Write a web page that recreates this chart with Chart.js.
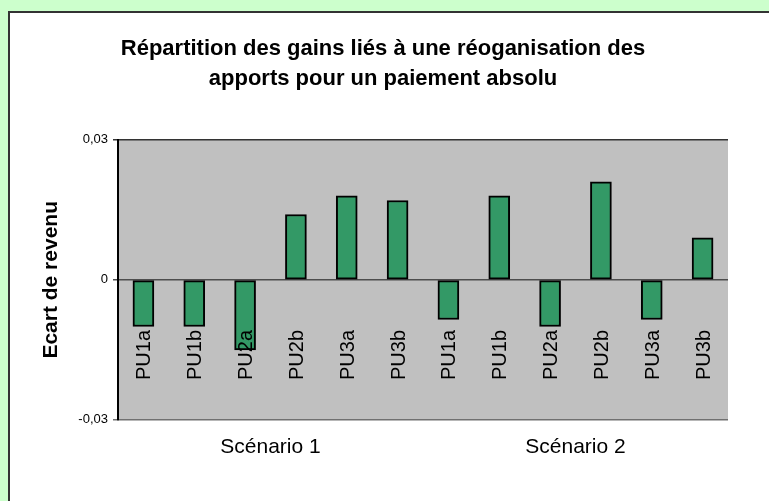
<!DOCTYPE html>
<html>
<head>
<meta charset="utf-8">
<script src="https://cdn.jsdelivr.net/npm/chart.js@4/dist/chart.umd.min.js"></script>
<style>
  html, body { margin: 0; padding: 0; background: #CCFFCC; }
  #wrap { position: relative; width: 769px; height: 501px; }
</style>
</head>
<body>
<div id="wrap"><canvas id="gainsChart" width="769" height="501"></canvas></div>
<script>
// Data
const barLabels = ['PU1a', 'PU1b', 'PU2a', 'PU2b', 'PU3a', 'PU3b',
                   'PU1a', 'PU1b', 'PU2a', 'PU2b', 'PU3a', 'PU3b'];
const gainValues = [-0.01, -0.01, -0.015, 0.014, 0.018, 0.017,
                    -0.0085, 0.018, -0.01, 0.021, -0.0085, 0.009];
const scenarios = ['Scénario 1', 'Scénario 2'];
const yTicks = [-0.03, 0, 0.03];

const FONT = "'Liberation Sans', Arial, sans-serif";

// Background: green page, white chart panel, grey plot area
const framePlugin = {
    id: 'frame',
    beforeDraw(chart) {
        const ctx = chart.ctx;
        const a = chart.chartArea;
        ctx.save();
        ctx.fillStyle = '#CCFFCC';
        ctx.fillRect(0, 0, chart.width, chart.height);
        ctx.fillStyle = '#ffffff';
        ctx.fillRect(9, 12, chart.width - 9, chart.height - 12);
        ctx.strokeStyle = '#333333';
        ctx.lineWidth = 2;
        ctx.beginPath();
        ctx.moveTo(9, chart.height);
        ctx.lineTo(9, 12);
        ctx.lineTo(chart.width, 12);
        ctx.stroke();
        ctx.fillStyle = '#C0C0C0';
        ctx.fillRect(a.left, a.top, a.right - a.left, a.bottom - a.top);
        ctx.restore();
    }
};

// Rotated category names drawn inside the plot area
const barNamePlugin = {
    id: 'barNames',
    afterDatasetsDraw(chart) {
        const ctx = chart.ctx;
        const xs = chart.scales.x;
        ctx.save();
        ctx.font = '20px ' + FONT;
        ctx.fillStyle = '#000';
        ctx.textAlign = 'left';
        ctx.textBaseline = 'alphabetic';
        barLabels.forEach((lbl, i) => {
            ctx.save();
            ctx.translate(xs.getPixelForValue(i), 380);
            ctx.rotate(-Math.PI / 2);
            ctx.fillText(lbl, 0, 7);
            ctx.restore();
        });
        ctx.restore();
    }
};

new Chart(document.getElementById('gainsChart'), {
    type: 'bar',
    data: {
        labels: barLabels,
        datasets: [{
            data: gainValues,
            backgroundColor: '#339966',
            borderColor: '#000000',
            borderWidth: 2,
            borderSkipped: false,
            barThickness: 21,
            xAxisID: 'x'
        }]
    },
    options: {
        responsive: false,
        animation: false,
        layout: { padding: { top: 12, left: 0, right: 3, bottom: 26 } },
        plugins: {
            legend: { display: false },
            tooltip: { enabled: false },
            title: {
                display: true,
                text: ['Répartition des gains liés à une réoganisation des',
                       'apports pour un paiement absolu'],
                color: '#000',
                font: { family: FONT, size: 22, weight: 'bold', lineHeight: 1.36 },
                padding: { top: 22, bottom: 46 }
            }
        },
        scales: {
            x: {
                display: false
            },
            x2: {
                type: 'category',
                position: 'bottom',
                labels: scenarios,
                grid: { display: false, drawTicks: false },
                border: { display: false },
                ticks: { color: '#000', font: { family: FONT, size: 21 }, padding: 15, maxRotation: 0 }
            },
            y: {
                min: -0.03,
                max: 0.03,
                afterBuildTicks(scale) {
                    scale.ticks = yTicks.map(v => ({ value: v }));
                },
                afterFit(scale) { scale.width = 118; },
                ticks: {
                    color: '#000',
                    font: { family: FONT, size: 13 },
                    padding: 5,
                    callback: v => v === 0 ? '0' : v.toFixed(2).replace('.', ',')
                },
                grid: {
                    tickLength: 5,
                    lineWidth: 1.5,
                    color: c => c.tick && c.tick.value > 0 ? '#333333' : (c.tick && c.tick.value === 0 ? '#4d4d4d' : '#707070')
                },
                border: { color: '#000', width: 2 },
                title: {
                    display: true,
                    text: 'Ecart de revenu',
                    color: '#000',
                    font: { family: FONT, size: 21, weight: 'bold' },
                    padding: { top: 39, bottom: 0 }
                }
            },
            // empty right-hand axis, only keeps the white margin right of the plot
            yRight: {
                position: 'right',
                min: -0.03,
                max: 0.03,
                afterFit(scale) { scale.width = 38; },
                ticks: { display: false },
                grid: { display: false },
                border: { display: false }
            }
        }
    },
    plugins: [framePlugin, barNamePlugin]
});
</script>
</body>
</html>
